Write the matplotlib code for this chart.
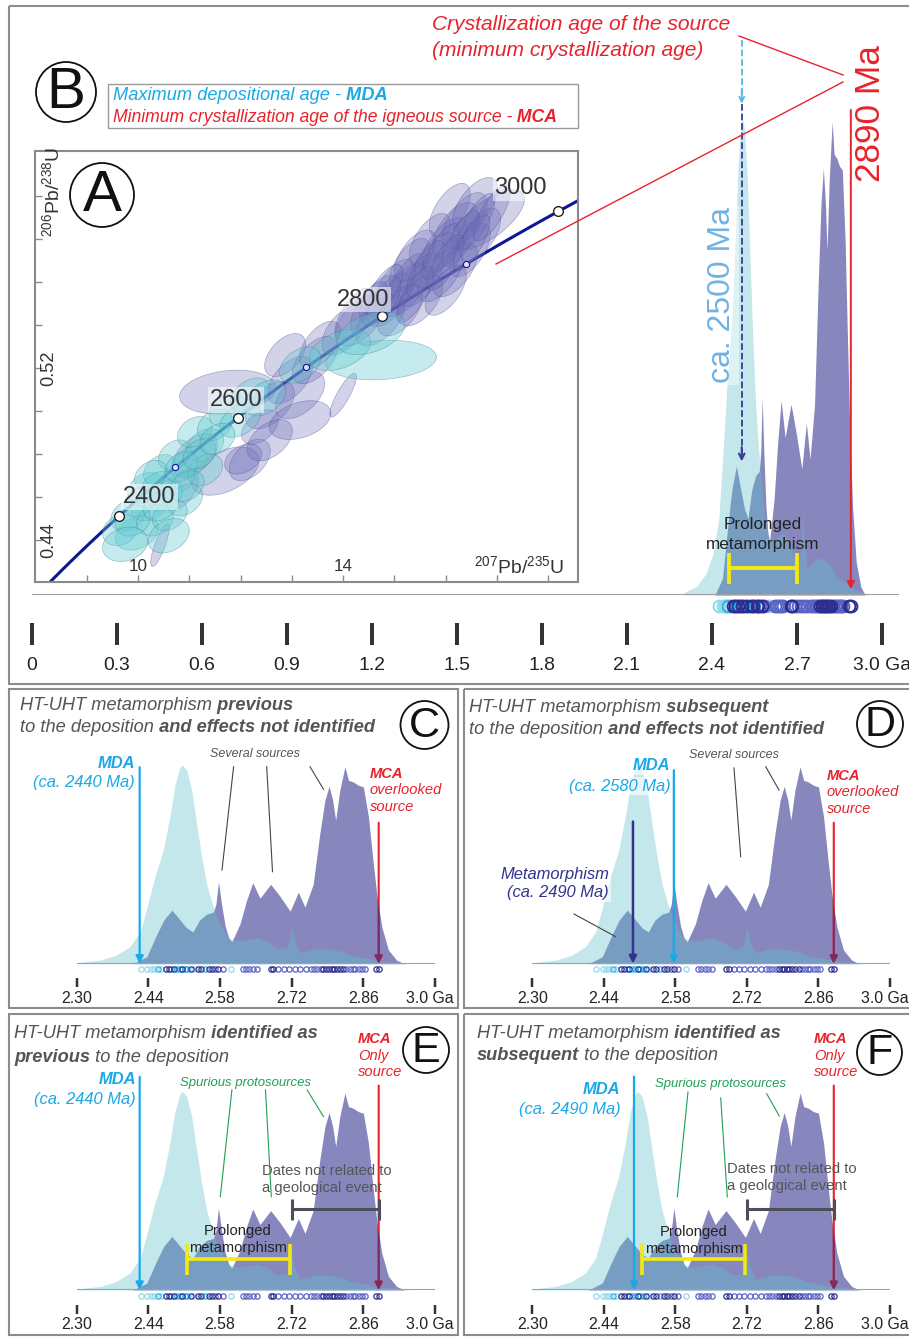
import numpy as np
import matplotlib
matplotlib.use("Agg")
import matplotlib.pyplot as plt
from matplotlib import font_manager
from matplotlib.font_manager import FontProperties
from matplotlib.patches import Circle, Rectangle, FancyArrowPatch
from matplotlib.transforms import ScaledTranslation

# ---------------- data ----------------
# detrital zircon KDEs (age in Ga, density scaled to the cyan maximum)
cyan_age = [2.300, 2.346, 2.378, 2.404, 2.424, 2.437, 2.453, 2.469, 2.482, 2.492,
            2.502, 2.507, 2.515, 2.525, 2.534, 2.544, 2.554, 2.564, 2.573, 2.586,
            2.600, 2.620, 2.652, 2.675, 2.691, 2.710, 2.716, 2.720, 2.725, 2.736,
            2.769, 2.790, 2.814, 2.840, 2.866, 2.900, 2.950]
cyan_dens = [0.005, 0.018, 0.044, 0.086, 0.16, 0.28, 0.44, 0.57, 0.74, 0.90,
             0.99, 1.0, 0.975, 0.87, 0.71, 0.54, 0.40, 0.31, 0.24, 0.17,
             0.125, 0.115, 0.13, 0.11, 0.075, 0.08, 0.12, 0.19, 0.12, 0.055,
             0.077, 0.075, 0.065, 0.04, 0.027, 0.012, 0.002]

purple_age = [2.410, 2.437, 2.455, 2.470, 2.486, 2.502, 2.515, 2.527, 2.540, 2.554,
              2.567, 2.572, 2.577, 2.583, 2.590, 2.597, 2.603, 2.619, 2.632, 2.644,
              2.658, 2.679, 2.697, 2.717, 2.733, 2.746, 2.762, 2.775, 2.785, 2.793,
              2.800, 2.806, 2.814, 2.824, 2.831, 2.840, 2.850, 2.860, 2.870, 2.878,
              2.886, 2.896, 2.909, 2.925, 2.940]
purple_dens = [0.0, 0.035, 0.14, 0.22, 0.27, 0.22, 0.18, 0.16, 0.22, 0.25,
               0.26, 0.30, 0.413, 0.30, 0.19, 0.13, 0.11, 0.20, 0.32, 0.408,
               0.33, 0.40, 0.34, 0.265, 0.36, 0.285, 0.40, 0.656, 0.824, 0.894,
               0.824, 0.723, 0.874, 0.992, 0.924, 0.916, 0.899, 0.891, 0.74, 0.54,
               0.354, 0.186, 0.069, 0.018, 0.0]

# single-grain dates (Ga) and colour group
grain_age = [2.425, 2.438, 2.445, 2.451, 2.458, 2.464, 2.474, 2.480, 2.485, 2.490,
             2.495, 2.501, 2.506, 2.511, 2.516, 2.523, 2.529, 2.537, 2.543, 2.550,
             2.558, 2.564, 2.571, 2.577, 2.585, 2.601, 2.624, 2.631, 2.637, 2.644,
             2.652, 2.679, 2.684, 2.694, 2.705, 2.715, 2.726, 2.736, 2.748, 2.757,
             2.764, 2.770, 2.777, 2.782, 2.788, 2.793, 2.798, 2.803, 2.808, 2.814,
             2.821, 2.827, 2.834, 2.839, 2.844, 2.851, 2.857, 2.863, 2.885, 2.890]
grain_grp = "llllclddcdccdccdlddcddbdblbbbbbddbbbbbbbbbbddddddddbbbbbbbdd"

# concordia ellipses: 207Pb/235U, 206Pb/238U, 1-sigma x, 1-sigma y, rho
cyan_ell = [
    (9.98, 0.4433, 0.21, 0.0040, 0.3), (9.81, 0.4516, 0.17, 0.0037, 0.3),
    (10.23, 0.4563, 0.18, 0.0037, 0.3), (10.53, 0.4609, 0.17, 0.0037, 0.3),
    (10.14, 0.4642, 0.17, 0.0036, 0.3), (10.78, 0.4688, 0.17, 0.0037, 0.3),
    (10.43, 0.4725, 0.16, 0.0036, 0.3), (11.01, 0.4762, 0.17, 0.0037, 0.3),
    (10.72, 0.4795, 0.16, 0.0035, 0.3), (11.31, 0.4841, 0.18, 0.0038, 0.3),
    (11.11, 0.4902, 0.17, 0.0036, 0.3), (11.50, 0.4934, 0.17, 0.0037, 0.3),
    (11.75, 0.5004, 0.18, 0.0038, 0.3), (12.18, 0.5073, 0.19, 0.0040, 0.4),
    (9.65, 0.4446, 0.17, 0.0036, 0.2), (10.33, 0.4493, 0.18, 0.0037, 0.2),
    (10.92, 0.4586, 0.17, 0.0037, 0.3), (10.62, 0.4516, 0.17, 0.0036, 0.3),
    (11.31, 0.4725, 0.17, 0.0037, 0.3), (14.74, 0.5236, 0.54, 0.0046, 0.15),
    (13.94, 0.5283, 0.30, 0.0048, 0.4), (14.54, 0.5361, 0.33, 0.0050, 0.4),
    (13.16, 0.5213, 0.20, 0.0042, 0.4), (12.48, 0.5060, 0.20, 0.0042, 0.4),
    (11.99, 0.4957, 0.20, 0.0040, 0.4), (10.05, 0.4580, 0.16, 0.0035, 0.3),
    (10.40, 0.4650, 0.17, 0.0035, 0.3), (10.25, 0.4700, 0.16, 0.0035, 0.3),
    (10.85, 0.4740, 0.16, 0.0035, 0.3), (11.20, 0.4800, 0.16, 0.0035, 0.3),
    (9.90, 0.4490, 0.17, 0.0036, 0.2), (9.75, 0.4380, 0.22, 0.0040, 0.2),
    (10.60, 0.4420, 0.20, 0.0040, 0.3), (10.95, 0.4650, 0.17, 0.0036, 0.3),
    (11.55, 0.4870, 0.17, 0.0036, 0.3), (10.45, 0.4560, 0.17, 0.0036, 0.3),
]
purple_ell = [
    (10.43, 0.4377, 0.09, 0.0050, 0.8), (11.11, 0.4795, 0.22, 0.0050, 0.5),
    (11.70, 0.4720, 0.33, 0.0056, 0.45), (11.75, 0.5087, 0.47, 0.0051, 0.2),
    (12.38, 0.4925, 0.18, 0.0040, 0.45), (12.96, 0.5143, 0.22, 0.0055, 0.55),
    (12.57, 0.5027, 0.24, 0.0055, 0.5), (13.16, 0.5073, 0.24, 0.0055, 0.5),
    (13.45, 0.5236, 0.22, 0.0055, 0.55), (12.87, 0.5259, 0.20, 0.0050, 0.5),
    (14.00, 0.5073, 0.13, 0.0051, 0.85), (13.55, 0.5306, 0.20, 0.0055, 0.55),
    (14.03, 0.5375, 0.22, 0.0058, 0.55), (14.33, 0.5422, 0.24, 0.0060, 0.55),
    (14.91, 0.5515, 0.22, 0.0062, 0.6), (14.72, 0.5422, 0.24, 0.0060, 0.55),
    (15.20, 0.5561, 0.22, 0.0062, 0.6), (15.50, 0.5608, 0.22, 0.0062, 0.6),
    (15.30, 0.5677, 0.20, 0.0062, 0.6), (15.79, 0.5700, 0.22, 0.0064, 0.6),
    (15.98, 0.5770, 0.22, 0.0064, 0.6), (15.69, 0.5793, 0.20, 0.0062, 0.6),
    (16.18, 0.5840, 0.22, 0.0064, 0.6), (16.37, 0.5886, 0.22, 0.0064, 0.6),
    (16.08, 0.5933, 0.20, 0.0062, 0.6), (16.57, 0.5956, 0.22, 0.0064, 0.6),
    (16.82, 0.5886, 0.36, 0.0070, 0.7), (15.11, 0.5468, 0.22, 0.0060, 0.55),
    (15.01, 0.5584, 0.20, 0.0060, 0.6), (14.72, 0.5515, 0.20, 0.0058, 0.55),
    (16.47, 0.5747, 0.20, 0.0062, 0.6), (16.67, 0.5817, 0.20, 0.0062, 0.6),
    (16.18, 0.5654, 0.22, 0.0062, 0.6), (15.50, 0.5515, 0.22, 0.0060, 0.55),
    (12.18, 0.4772, 0.20, 0.0048, 0.45), (10.82, 0.4632, 0.18, 0.0048, 0.5),
    (12.57, 0.4864, 0.22, 0.0048, 0.45), (13.16, 0.4957, 0.30, 0.0045, 0.35),
    (15.89, 0.5631, 0.22, 0.0062, 0.6), (12.05, 0.4776, 0.18, 0.0035, 0.35),
    (15.40, 0.5720, 0.20, 0.0060, 0.6), (16.00, 0.5560, 0.20, 0.0058, 0.6),
    (15.20, 0.5600, 0.18, 0.0065, 0.75), (15.60, 0.5660, 0.18, 0.0065, 0.75),
    (15.90, 0.5740, 0.18, 0.0065, 0.75), (16.30, 0.5800, 0.18, 0.0065, 0.75),
    (16.60, 0.5880, 0.18, 0.0065, 0.75), (16.90, 0.5920, 0.18, 0.0065, 0.75),
    (15.40, 0.5540, 0.18, 0.0065, 0.75), (16.00, 0.5690, 0.18, 0.0065, 0.75),
    (16.50, 0.5780, 0.18, 0.0065, 0.75), (14.80, 0.5560, 0.18, 0.0060, 0.7),
    (14.50, 0.5480, 0.18, 0.0060, 0.7), (14.20, 0.5450, 0.18, 0.0060, 0.7),
]
concordia_nodes = [2400, 2600, 2800, 3000]
concordia_small = [2500, 2700, 2900]
a_xticks = [9, 10, 11, 12, 13, 14, 15, 16, 17, 18]
a_xlabels = [10, 14]
a_yticks = [0.44, 0.46, 0.48, 0.50, 0.52, 0.54, 0.56, 0.58, 0.60]
a_ylabels = [0.44, 0.52]

top_ticks = [0, 0.3, 0.6, 0.9, 1.2, 1.5, 1.8, 2.1, 2.4, 2.7, 3.0]
top_labels = ["0", "0.3", "0.6", "0.9", "1.2", "1.5", "1.8", "2.1", "2.4", "2.7", "3.0 Ga"]
low_ticks = [2.30, 2.44, 2.58, 2.72, 2.86, 3.0]
low_labels = ["2.30", "2.44", "2.58", "2.72", "2.86", "3.0 Ga"]

# interpreted ages (Ga) and arrow tops (density units of each panel)
mda_age = {"C": 2.423, "D": 2.577, "E": 2.423, "F": 2.499}
mda_top = {"C": 0.99, "D": 0.975, "E": 1.074, "F": 1.075}
mca_age = 2.89
mca_top = {"C": 0.71, "D": 0.71, "E": 1.03, "F": 1.03}
meta_age, meta_top = 2.497, 0.716
top_mda, top_mca = 2.505, 2.89
yellow_span = (2.515, 2.717)
grey_span = (2.72, 2.89)
top_yellow_span = (2.461, 2.699)

# ---------------- style ----------------
def has_font(name):
    try:
        font_manager.findfont(FontProperties(family=name), fallback_to_default=False)
        return True
    except Exception:
        return False

if has_font("Liberation Sans Narrow"):
    NARROW, SC = "Liberation Sans Narrow", 1.0
elif has_font("Liberation Sans"):
    NARROW, SC = "Liberation Sans", 0.82
else:
    NARROW, SC = "DejaVu Sans", 0.76
REG = "Liberation Sans" if has_font("Liberation Sans") else "DejaVu Sans"
plt.rcParams["font.family"] = [NARROW, "DejaVu Sans"]
plt.rcParams["mathtext.fontset"] = "custom"
plt.rcParams["mathtext.rm"] = NARROW
plt.rcParams["mathtext.it"] = NARROW + ":italic"

PURPLE = "#8787bd"
CYAN_FILL = "#62c2cc"
CYAN_TXT = "#1aa9e6"
RED = "#e8232b"
MAROON = "#7d2b63"
GREY_TXT = "#555555"
GREEN = "#1fa055"
DKBLUE = "#33338f"
YELLOW = "#f4e812"
GRAIN_COL = {"l": "#8fd8ec", "c": "#29b2e4", "b": "#5a63c4", "d": "#2d2d8f"}

W, H = 909, 1337
fig = plt.figure(figsize=(W / 100, H / 100), dpi=100)


def frect(x0, y0, x1, y1):
    return [x0 / W, 1 - y1 / H, (x1 - x0) / W, (y1 - y0) / H]


def fs(v):
    return v * SC


def draw_kde(ax, ms, mew, ydot):
    pur = ax.fill_between(purple_age, purple_dens, 0, color=PURPLE, lw=0, zorder=2)
    ax.fill_between(cyan_age, cyan_dens, 0, color=CYAN_FILL, alpha=0.38, lw=0, zorder=3)
    ax.axhline(0, color="#a0a0a0", lw=1.5, zorder=4)
    ga = np.array(grain_age)
    gg = np.array(list(grain_grp))
    for g, col in GRAIN_COL.items():
        sel = gg == g
        ax.plot(ga[sel], np.full(sel.sum(), ydot), "o", mfc="none", mec=col, ms=ms,
                mew=mew, ls="none", clip_on=False, zorder=5)
    return pur


def setup_axis(ax, ticks, labels, out_px, tlen, tw, lsize, pad, last_shift=0):
    for s in ["top", "right", "left"]:
        ax.spines[s].set_visible(False)
    ax.spines["bottom"].set_position(("outward", out_px * 0.72))
    ax.spines["bottom"].set_visible(False)
    ax.set_yticks([])
    ax.set_xticks(ticks)
    ax.set_xticklabels(labels)
    ax.tick_params(axis="x", direction="out", length=tlen * 0.72, width=tw * 0.72,
                   color="#333333", labelsize=fs(lsize), pad=pad, labelcolor="#222222")
    ax.patch.set_visible(False)
    ax.set_ylim(0, 1)
    if last_shift:
        lab = ax.get_xticklabels()[-1]
        lab.set_transform(lab.get_transform() + ScaledTranslation(last_shift / 100, 0, fig.dpi_scale_trans))


def arrow(ax, x, y0, y1, col, lw=1.6, style="-|>", ms=12, clip=None):
    p = FancyArrowPatch((x, y0), (x, y1), arrowstyle=style, mutation_scale=ms,
                        color=col, lw=lw, zorder=6, shrinkA=0, shrinkB=0)
    ax.add_patch(p)
    if clip is not None:
        p.set_clip_path(clip.get_paths()[0], ax.transData)
    else:
        p.set_clip_on(False)
    return p


def bracket(ax, span, y, half, col, lw):
    ax.hlines(y, span[0], span[1], color=col, lw=lw, zorder=7, clip_on=False)
    ax.vlines(span, y - half, y + half, color=col, lw=lw, zorder=7, clip_on=False)


# ---------------- top panel KDE (B) ----------------
ax_t = fig.add_axes(frect(32, 118, 899, 595))
ax_t.set_xlim(0, 3.06)
pur_t = draw_kde(ax_t, 8.5, 1.4, -0.023)
setup_axis(ax_t, top_ticks, top_labels, 28, 22, 4, 17, 9)
ax_t.plot([top_mda, top_mda], [1.163, 1.04], ls="--", color="#59b8e8", lw=1.3, clip_on=False, zorder=6)
arrow(ax_t, top_mda, 1.06, 1.03, "#59b8e8", lw=1.3, style="->", ms=9)
ax_t.plot([top_mda, top_mda], [1.03, 0.29], ls="--", color="#3a3a96", lw=1.3, clip_on=False, zorder=6)
arrow(ax_t, top_mda, 0.31, 0.28, "#3a3a96", lw=1.5, style="->", ms=10)
arrow(ax_t, top_mca, 1.017, 0.012, RED, lw=1.4, ms=11)
bracket(ax_t, top_yellow_span, 0.056, 0.032, YELLOW, 2.8)

# ---------------- lower panels ----------------
panels = {
    "C": (76.7, 435, 963.7),
    "D": (532.3, 890, 963.7),
    "E": (76.7, 435, 1290),
    "F": (532.3, 890, 1290),
}
low_ax = {}
for key, (x0, x1, base) in panels.items():
    ax = fig.add_axes(frect(x0, base - 198.5, x1, base))
    ax.set_xlim(2.30, 3.0)
    pur = draw_kde(ax, 3.8, 0.9, -0.028)
    setup_axis(ax, low_ticks, low_labels, 14.5, 9, 2.5, 14, 2.5, last_shift=-5)
    arrow(ax, mda_age[key], mda_top[key], 0.0, CYAN_TXT, lw=1.6, ms=11)
    arrow(ax, mca_age, mca_top[key], 0.0, RED, lw=1.5, ms=11)
    arrow(ax, mca_age, mca_top[key], 0.0, MAROON, lw=1.5, ms=11, clip=pur)
    low_ax[key] = ax

arrow(low_ax["D"], meta_age, meta_top, 0.0, DKBLUE, lw=1.8, ms=11)
for key in ["E", "F"]:
    bracket(low_ax[key], grey_span, 0.406, 0.053, "#4d4d5c", 2.2)
    bracket(low_ax[key], yellow_span, 0.156, 0.078, YELLOW, 2.6)

# ---------------- panel A: concordia ----------------
ax_a = fig.add_axes(frect(35.4, 151, 578, 582))
ax_a.set_xlim(8.0, 18.58)
ax_a.set_ylim(0.4205, 0.6207)
for s in ax_a.spines.values():
    s.set_color("#8a8a8a")
    s.set_linewidth(1.5)
ax_a.set_xticks(a_xticks)
ax_a.set_yticks(a_yticks)
ax_a.tick_params(direction="in", length=5, width=1, color="#8a8a8a",
                 labelbottom=False, labelleft=False)

L235, L238 = 9.8485e-10, 1.55125e-10
t = np.linspace(2.0e9, 3.3e9, 300)
ax_a.plot(np.expm1(L235 * t), np.expm1(L238 * t), color="#0b1896", lw=2.2, zorder=1)

tt = np.linspace(0, 2 * np.pi, 72)
for ells, fc, ec, al in ((purple_ell, "#6c6cb8", "#4f4f96", 0.3),
                         (cyan_ell, "#62cad2", "#3f7f88", 0.36)):
    for (x, y, sx, sy, r) in ells:
        ex = x + 2 * sx * np.cos(tt)
        ey = y + 2 * sy * (r * np.cos(tt) + np.sqrt(1 - r * r) * np.sin(tt))
        ax_a.fill(ex, ey, fc=fc, alpha=al, ec="none", zorder=2)
        ax_a.plot(ex, ey, color=ec, lw=0.5, alpha=0.45, zorder=2)

node_off = {2400: (22, 14), 2600: (-1, 13), 2800: (-14, 12), 3000: (-27, 17)}
for age in concordia_nodes:
    x, y = np.expm1(L235 * age * 1e6), np.expm1(L238 * age * 1e6)
    ax_a.plot(x, y, "o", mfc="white", mec="#222222", ms=7, mew=1, zorder=4)
    ax_a.annotate(str(age), (x, y), xytext=node_off[age], textcoords="offset points",
                  ha="center", va="center", fontsize=17, color="#333333", zorder=5,
                  bbox=dict(boxstyle="square,pad=0.08", fc="white", ec="none", alpha=0.55))
for age in concordia_small:
    x, y = np.expm1(L235 * age * 1e6), np.expm1(L238 * age * 1e6)
    ax_a.plot(x, y, "o", mfc="#dde0f4", mec="#0b1896", ms=4.5, mew=0.8, zorder=4)

for v in a_xlabels:
    ax_a.text(v, 0.035, str(v), transform=ax_a.get_xaxis_transform(), ha="center",
              va="center", fontsize=fs(15), color="#333333")
for v in a_ylabels:
    ax_a.text(0.025, v, "%.2f" % v, transform=ax_a.get_yaxis_transform(), ha="center",
              va="center", fontsize=fs(16), color="#333333", rotation=90)
ax_a.text(0.031, 0.905, r"$^{206}$Pb/$^{238}$U", transform=ax_a.transAxes, rotation=90,
          ha="center", va="center", fontsize=fs(17), color="#333333")
ax_a.text(0.892, 0.037, r"$^{207}$Pb/$^{235}$U", transform=ax_a.transAxes,
          ha="center", va="center", fontsize=fs(17), color="#333333")

# ---------------- overlay (frames, labels, leaders) ----------------
ov = fig.add_axes([0, 0, 1, 1])
ov.set_xlim(0, W)
ov.set_ylim(H, 0)
ov.axis("off")
ov.set_zorder(10)
ov.patch.set_alpha(0)

for (x0, y0, x1, y1) in [(8.5, 6, 915, 684), (8.7, 689, 458, 1008), (463.8, 689, 915, 1008),
                         (8.7, 1014, 458, 1335), (463.8, 1014, 915, 1335)]:
    ov.add_patch(Rectangle((x0, y0), x1 - x0, y1 - y0, fill=False, ec="#8c8c8c", lw=1.5))

for (cx, cy, r, letter, size) in [(66, 92, 30, "B", 42), (102, 195, 32, "A", 42),
                                  (424.5, 725, 24, "C", 31), (880, 724, 23, "D", 31),
                                  (426, 1050, 23, "E", 31), (879.5, 1052.5, 22.5, "F", 31)]:
    ov.add_patch(Circle((cx, cy), r, fc="white", ec="#111111", lw=1.3))
    ov.text(cx, cy + 1, letter, ha="center", va="center", fontsize=size, color="#111111")

renderer = fig.canvas.get_renderer()


def rich(x, y, parts, size, color):
    cur = x
    for s, bold in parts:
        tx = ov.text(cur, y, s, fontsize=fs(size), color=color, style="italic",
                     weight="bold" if bold else "normal", va="center", ha="left")
        cur = tx.get_window_extent(renderer).x1


# legend box of B
ov.add_patch(Rectangle((107.5, 84), 470.5, 44, fill=False, ec="#9a9a9a", lw=1))
rich(113, 96, [("Maximum depositional age -", False), (" MDA", True)], 16, CYAN_TXT)
rich(113, 117, [("Minimum crystallization age of the igneous source -", False), (" MCA", True)], 15.5, RED)

ov.text(432, 25, "Crystallization age of the source", color=RED, style="italic",
        fontsize=fs(18.5), va="center", ha="left")
ov.text(432, 50, "(minimum crystallization age)", color=RED, style="italic",
        fontsize=fs(18.5), va="center", ha="left")
ov.plot([739, 843], [36, 75], color=RED, lw=1)
ov.plot([496, 843], [264, 82], color=RED, lw=1)
ov.text(870, 114, "2890 Ma", color=RED, rotation=90, fontsize=fs(31), ha="center", va="center")
ov.text(722, 295, "ca. 2500 Ma", color="#6fb3e3", rotation=90,
        fontsize=23 if REG == "Liberation Sans" else 21,
        family=REG, ha="center", va="center",
        bbox=dict(boxstyle="square,pad=0.05", fc="white", ec="none", alpha=0.45))
ov.text(763, 525, "Prolonged", fontsize=fs(15), ha="center", va="center", color="#222222")
ov.text(763, 544, "metamorphism", fontsize=fs(15), ha="center", va="center", color="#222222")

# panel titles
rich(20, 705, [("HT-UHT metamorphism", False), (" previous", True)], 16, GREY_TXT)
rich(20, 728, [("to the deposition", False), (" and effects not identified", True)], 16, GREY_TXT)
rich(469, 707, [("HT-UHT metamorphism", False), (" subsequent", True)], 16, GREY_TXT)
rich(469, 730, [("to the deposition", False), (" and effects not identified", True)], 16, GREY_TXT)
rich(14.5, 1033, [("HT-UHT metamorphism", False), (" identified as", True)], 16, GREY_TXT)
rich(14.5, 1057, [("previous", True), (" to the deposition", False)], 16, GREY_TXT)
rich(476.7, 1033, [("HT-UHT metamorphism", False), (" identified as", True)], 16, GREY_TXT)
rich(476.7, 1055.5, [("subsequent", True), (" to the deposition", False)], 16, GREY_TXT)


def mda_label(x, y, txt, box=False):
    kw = dict(ha="right", va="center", color=CYAN_TXT, style="italic", fontsize=fs(14.5))
    if box:
        kw["bbox"] = dict(boxstyle="square,pad=0.1", fc="white", ec="none", alpha=0.6)
    ov.text(x, y, "MDA", weight="bold", **kw)
    ov.text(x, y + 20, txt, **kw)


def mca_label(x, y, lines):
    ov.text(x, y, "MCA", color=RED, style="italic", weight="bold", fontsize=fs(13), va="center")
    for i, s in enumerate(lines):
        ov.text(x, y + 16.5 * (i + 1), s, color=RED, style="italic", fontsize=fs(13), va="center")


def leaders(segs, col):
    for (xa, ya, xb, yb) in segs:
        ov.plot([xa, xb], [ya, yb], color=col, lw=0.8)


mda_label(135, 763, "(ca. 2440 Ma)")
mda_label(670.7, 766, "(ca. 2580 Ma)", box=True)
mda_label(136, 1079.5, "(ca. 2440 Ma)")
mda_label(620.7, 1089.5, "(ca. 2490 Ma)")
mca_label(370, 774, ["overlooked", "source"])
mca_label(826.7, 775.7, ["overlooked", "source"])
mca_label(358, 1039.3, ["Only", "source"])
mca_label(814, 1039.3, ["Only", "source"])

for (x, y) in [(255, 754), (734, 755)]:
    ov.text(x, y, "Several sources", color=GREY_TXT, style="italic", fontsize=fs(11),
            ha="center", va="center")
leaders([(233.6, 766.7, 222, 870), (266.7, 766.7, 272.5, 871.7), (310, 766.7, 323.5, 789.3),
         (734, 768, 740.7, 856.7), (765.7, 766.7, 779, 790), (574, 914, 615.7, 936.7)], "#444444")

for (x, y, s) in [(609, 874, "Metamorphism"), (609, 893, "(ca. 2490 Ma)")]:
    ov.text(x, y, s, color=DKBLUE, style="italic", fontsize=fs(14.5), ha="right", va="center",
            bbox=dict(boxstyle="square,pad=0.1", fc="white", ec="none", alpha=0.6))

for (x, y) in [(245, 1082.7), (720.7, 1083.7)]:
    ov.text(x, y, "Spurious protosources", color=GREEN, style="italic", fontsize=fs(11.5),
            ha="center", va="center")
leaders([(231.9, 1090, 220.3, 1196.7), (265.5, 1090, 271.3, 1196.7), (307.2, 1090, 323.5, 1116.7),
         (688, 1092, 677.3, 1197), (720.7, 1098, 727.3, 1197), (766.7, 1093.7, 779.3, 1116)], GREEN)

for (x, y) in [(262, 1170.7), (727.3, 1168.7)]:
    ov.text(x, y, "Dates not related to", color=GREY_TXT, fontsize=fs(13), va="center")
    ov.text(x, y + 17, "a geological event", color=GREY_TXT, fontsize=fs(13), va="center")
for (x, y) in [(237.7, 1230.7), (694, 1232)]:
    ov.text(x, y, "Prolonged", color="#222222", fontsize=fs(13), ha="center", va="center")
    ov.text(x, y + 17.5, "metamorphism", color="#222222", fontsize=fs(13), ha="center", va="center")

fig.savefig("out.png", dpi=100)
